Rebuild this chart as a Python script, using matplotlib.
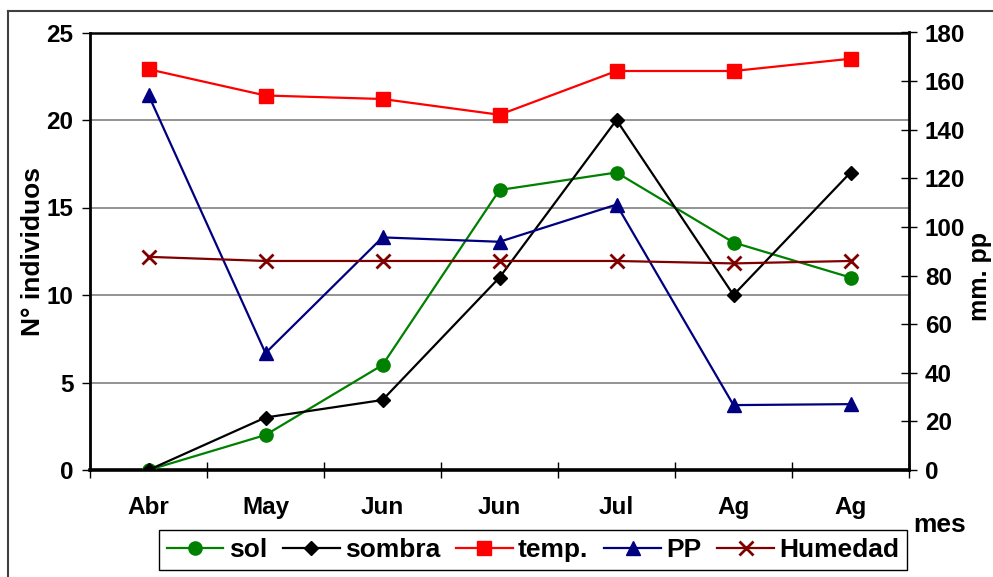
import matplotlib
matplotlib.use('Agg')
import matplotlib.pyplot as plt
from matplotlib.lines import Line2D
from matplotlib.ticker import FixedLocator
import numpy as np

meses = ['Abr', 'May', 'Jun', 'Jun', 'Jul', 'Ag', 'Ag']
sol = [0, 2, 6, 16, 17, 13, 11]
sombra = [0, 3, 4, 11, 20, 10, 17]
temp = [22.9, 21.4, 21.2, 20.3, 22.8, 22.8, 23.5]
pp = [154.3, 48.1, 95.7, 93.9, 109.2, 26.7, 27.1]
humedad = [87.7, 86.0, 86.0, 86.0, 86.0, 85.0, 86.0]
left_ticks = [0, 5, 10, 15, 20, 25]
right_ticks = [0, 20, 40, 60, 80, 100, 120, 140, 160, 180]

plt.rcParams['font.family'] = ['Liberation Sans', 'DejaVu Sans']
plt.rcParams['font.weight'] = 'bold'

W, H = 993, 577
fig = plt.figure(figsize=(W / 100, H / 100), dpi=100)
ax = fig.add_axes([90 / W, 107 / H, 819 / W, 437.5 / H])

x = np.arange(len(meses))
l1, = ax.plot(x, sol, color='#008000', marker='o', ms=9.5, lw=1.6, label='sol', zorder=3)
l2, = ax.plot(x, sombra, color='black', marker='D', ms=7.5, lw=1.6, label='sombra', zorder=4)
l3, = ax.plot(x, temp, color='#FF0000', marker='s', ms=10.5, lw=1.6, label='temp.', zorder=5)

ax.set_xlim(-0.5, len(meses) - 0.5)
ax.set_ylim(0, 25)
ax.set_yticks(left_ticks)
ax.set_xticks(x)
ax.set_xticklabels(meses)
ax.xaxis.set_minor_locator(FixedLocator(np.arange(-0.5, len(meses), 1.0)))
ax.tick_params(axis='x', which='major', length=0, pad=19, labelsize=17.5)
ax.tick_params(axis='x', which='minor', direction='inout', length=12, width=1, color='black')
ax.tick_params(axis='y', which='major', direction='out', length=6, width=1, pad=6, labelsize=17.5)
ax.yaxis.grid(True, color='#808080', lw=1.2)
ax.set_axisbelow(True)
for s, lw in (('left', 2.0), ('bottom', 2.6), ('top', 1.8)):
    ax.spines[s].set_linewidth(lw)
    ax.spines[s].set_color('black')
ax.spines['right'].set_visible(False)

ax2 = ax.twinx()
l4, = ax2.plot(x, pp, color='#000080', marker='^', ms=10.5, lw=1.6, label='PP')
l5, = ax2.plot(x, humedad, color='#800000', marker='x', ms=10.5, mew=2, lw=1.6, label='Humedad')
ax2.set_ylim(0, 180)
ax2.set_yticks(right_ticks)
ax2.tick_params(axis='y', direction='inout', length=11, width=1, pad=6, labelsize=17.5)
for s in ('left', 'bottom', 'top'):
    ax2.spines[s].set_visible(False)
ax2.spines['right'].set_linewidth(2.0)
ax2.spines['right'].set_color('black')

fig.text(40 / W, 1 - 251 / H, 'N° individuos', rotation=90, rotation_mode='anchor',
         ha='center', va='baseline', fontsize=19, fontweight='bold')
fig.text(987 / W, 1 - 277 / H, 'mm. pp', rotation=90, rotation_mode='anchor',
         ha='center', va='baseline', fontsize=18, fontweight='bold')
fig.text(913 / W, 1 - 532 / H, 'mes', ha='left', va='baseline', fontsize=19, fontweight='bold')

leg = fig.legend(handles=[l1, l2, l3, l4, l5], loc='center',
                 bbox_to_anchor=(533 / W, 1 - 550 / H), bbox_transform=fig.transFigure,
                 ncol=5, fontsize=19, handlelength=2.15, handletextpad=0.2,
                 columnspacing=0.6, borderpad=0.3, fancybox=False, framealpha=1,
                 edgecolor='black', borderaxespad=0)
leg.get_frame().set_linewidth(1.0)

# outer chart border (partially visible)
fig.add_artist(Line2D([8 / W, 8 / W], [0, 1 - 11 / H], color='#404040', lw=1.5))
fig.add_artist(Line2D([8 / W, 1], [1 - 11 / H, 1 - 11 / H], color='#404040', lw=1.5))

fig.savefig('out.png', dpi=100)
